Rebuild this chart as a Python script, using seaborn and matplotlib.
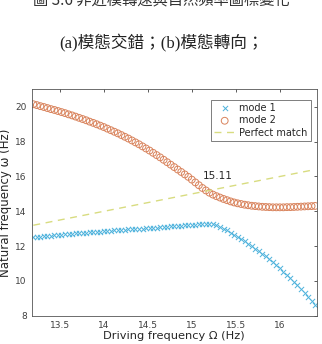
import matplotlib
matplotlib.use("Agg")
import matplotlib.pyplot as plt
import numpy as np
import seaborn as sns

# driving frequency grid (Hz)
drive_freq = [
    13.20, 13.24, 13.28, 13.32, 13.36, 13.40, 13.44, 13.48, 13.52, 13.56,
    13.60, 13.64, 13.68, 13.72, 13.76, 13.80, 13.84, 13.88, 13.92, 13.96,
    14.00, 14.04, 14.08, 14.12, 14.16, 14.20, 14.24, 14.28, 14.32, 14.36,
    14.40, 14.44, 14.48, 14.52, 14.56, 14.60, 14.64, 14.68, 14.72, 14.76,
    14.80, 14.84, 14.88, 14.92, 14.96, 15.00, 15.04, 15.08, 15.12, 15.16,
    15.20, 15.24, 15.28, 15.32, 15.36, 15.40, 15.44, 15.48, 15.52, 15.56,
    15.60, 15.64, 15.68, 15.72, 15.76, 15.80, 15.84, 15.88, 15.92, 15.96,
    16.00, 16.04, 16.08, 16.12, 16.16, 16.20, 16.24, 16.28, 16.32, 16.36,
    16.40,
]
mode1 = [
    12.50, 12.52, 12.54, 12.56, 12.58, 12.60, 12.62, 12.64, 12.66, 12.68,
    12.70, 12.72, 12.73, 12.75, 12.76, 12.78, 12.79, 12.81, 12.82, 12.84,
    12.85, 12.87, 12.88, 12.90, 12.91, 12.93, 12.94, 12.96, 12.97, 12.99,
    13.00, 13.01, 13.03, 13.04, 13.06, 13.07, 13.08, 13.10, 13.11, 13.13,
    13.14, 13.16, 13.17, 13.19, 13.20, 13.22, 13.24, 13.26, 13.27, 13.28,
    13.28, 13.25, 13.19, 13.11, 13.01, 12.90, 12.78, 12.66, 12.54, 12.41,
    12.27, 12.13, 12.00, 11.86, 11.72, 11.57, 11.41, 11.25, 11.08, 10.90,
    10.72, 10.53, 10.34, 10.15, 9.95, 9.75, 9.54, 9.32, 9.09, 8.85,
    8.60,
]
mode2 = [
    20.15, 20.10, 20.04, 19.99, 19.93, 19.87, 19.82, 19.76, 19.70, 19.64,
    19.57, 19.51, 19.44, 19.37, 19.30, 19.23, 19.15, 19.08, 19.00, 18.92,
    18.84, 18.75, 18.66, 18.57, 18.48, 18.38, 18.28, 18.18, 18.07, 17.96,
    17.85, 17.73, 17.61, 17.49, 17.36, 17.23, 17.10, 16.96, 16.82, 16.68,
    16.54, 16.40, 16.26, 16.12, 15.98, 15.82, 15.66, 15.50, 15.34, 15.20,
    15.07, 14.96, 14.87, 14.79, 14.71, 14.64, 14.57, 14.51, 14.46, 14.42,
    14.38, 14.35, 14.32, 14.30, 14.28, 14.26, 14.25, 14.24, 14.23, 14.23,
    14.23, 14.23, 14.24, 14.24, 14.25, 14.26, 14.27, 14.28, 14.29, 14.30,
    14.31,
]
cross_x = 15.11
x_ticks = [13.5, 14, 14.5, 15, 15.5, 16]
y_ticks = [8, 10, 12, 14, 16, 18, 20]

caption1 = "圖 3.6 非近模轉速與自然頻率圖標變化"
caption2 = "(a)模態交錯；(b)模態轉向；"

sns.set_style("white")
plt.rcParams["font.family"] = ["DejaVu Sans"]

fig = plt.figure(figsize=(3.22, 3.44), dpi=100)
ax = fig.add_axes([0.098, 0.082, 0.886, 0.658])

sns.scatterplot(x=drive_freq, y=mode1, marker="x", s=14, color="#4db2dc",
                linewidth=0.7, ax=ax, label="mode 1")
sns.scatterplot(x=drive_freq, y=mode2, marker="o", s=24, facecolors="none",
                edgecolor="#d9835c", linewidth=0.7, ax=ax, label="mode 2")
sns.lineplot(x=[drive_freq[0], drive_freq[-1]], y=[drive_freq[0], drive_freq[-1]],
             color="#d8dc80", linestyle=(0, (5, 4)), linewidth=1.0, ax=ax,
             label="Perfect match")

ax.text(cross_x + 0.02, 16.0, f"{cross_x:.2f}", fontsize=7.5, color="#262626",
        ha="left", va="center")

ax.set_xlim(13.18, 16.42)
ax.set_ylim(8, 21)
ax.set_xticks(x_ticks)
ax.set_xticklabels([f"{t:g}" for t in x_ticks])
ax.set_yticks(y_ticks)
ax.tick_params(direction="in", length=2.5, width=0.6, labelsize=6.5,
               colors="#404040", top=True, right=True,
               labeltop=False, labelright=False)
for s in ax.spines.values():
    s.set_color("#555555")
    s.set_linewidth(0.6)
ax.set_xlabel("Driving frequency Ω (Hz)", fontsize=8.2, color="#262626", labelpad=1)
ax.set_ylabel("Natural frequency ω (Hz)", fontsize=8.5, color="#262626", labelpad=2)

leg = ax.legend(loc="upper right", fontsize=7, frameon=True, fancybox=False,
                borderpad=0.3, handlelength=2.2, handletextpad=0.4,
                labelspacing=0.25, bbox_to_anchor=(0.995, 0.975))
leg.get_frame().set_edgecolor("#444444")
leg.get_frame().set_linewidth(0.6)

# the first caption line is cut by the top edge, as in the source scan
fig.text(0.5, 1.0, caption1, fontsize=11, ha="center", va="center",
         family=["Noto Sans CJK TC", "DejaVu Sans"], color="#333333")
fig.text(0.5, 0.875, caption2, fontsize=12, ha="center", va="center",
         family=["Liberation Serif", "Noto Sans CJK TC"], color="#222222")

fig.savefig("out.png", dpi=100)
plt.close(fig)
